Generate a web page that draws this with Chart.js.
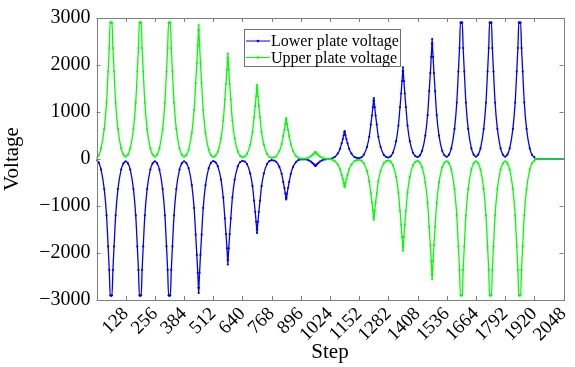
<!DOCTYPE html>
<html>
<head>
<meta charset="utf-8">
<script src="https://cdn.jsdelivr.net/npm/chart.js@4"></script>
<style>
  body{ margin:0; background:#fff; }
  canvas{ display:block; }
</style>
</head>
<body>
<canvas id="voltChart" width="575" height="367"></canvas>
<script>
// step positions of the samples (dense around every peak)
const steps = [
  0,
  10,20,34,44,51,56,60,63,64,65,68,72,77,84,94,108,118,128,
  138,148,162,172,179,184,188,191,192,193,196,200,205,212,222,236,246,256,
  266,276,290,300,307,312,316,319,320,321,324,328,333,340,350,364,374,384,
  394,404,418,428,435,440,444,447,448,449,452,456,461,468,478,492,502,512,
  522,532,546,556,563,568,572,575,576,577,580,584,589,596,606,620,630,640,
  650,660,674,684,691,696,700,703,704,705,708,712,717,724,734,748,758,768,
  778,788,802,812,819,824,828,831,832,833,836,840,845,852,862,876,886,896,
  906,916,930,940,947,952,956,959,960,961,964,968,973,980,990,1004,1014,1024,
  1034,1044,1058,1068,1075,1080,1084,1087,1088,1089,1092,1096,1101,1108,1118,1132,1142,1152,
  1162,1172,1186,1196,1203,1208,1212,1215,1216,1217,1220,1224,1229,1236,1246,1260,1270,1280,
  1290,1300,1314,1324,1331,1336,1340,1343,1344,1345,1348,1352,1357,1364,1374,1388,1398,1408,
  1418,1428,1442,1452,1459,1464,1468,1471,1472,1473,1476,1480,1485,1492,1502,1516,1526,1536,
  1546,1556,1570,1580,1587,1592,1596,1599,1600,1601,1604,1608,1613,1620,1630,1644,1654,1664,
  1674,1684,1698,1708,1715,1720,1724,1727,1728,1729,1732,1736,1741,1748,1758,1772,1782,1792,
  1802,1812,1826,1836,1843,1848,1852,1855,1856,1857,1860,1864,1869,1876,1886,1900,1910,1920,
  1924,2048
];

const upperVoltage = [
  27,
  77,225,640,1200,1860,2360,2900,2900,2900,2900,2900,2360,1860,1200,640,225,94,50,
  94,225,640,1200,1860,2360,2900,2900,2900,2900,2900,2360,1860,1200,640,225,94,50,
  94,225,640,1200,1860,2360,2900,2900,2900,2900,2900,2360,1860,1200,640,225,94,50,
  86,195,556,1040,1610,2040,2420,2740,2850,2740,2420,2040,1610,1040,556,195,82,45,
  72,153,437,818,1265,1600,1900,2150,2240,2150,1900,1600,1265,818,437,153,67,38,
  55,107,306,573,887,1123,1335,1507,1570,1507,1335,1123,887,573,306,107,46,25,
  34,59,170,318,492,622,740,835,870,835,740,622,492,318,170,59,22,10,
  10,10,29,55,85,107,128,144,150,144,128,107,85,55,29,10,0,-4,
  -13,-41,-117,-219,-339,-429,-510,-576,-600,-576,-510,-429,-339,-219,-117,-41,-24,-18,
  -36,-88,-252,-471,-729,-922,-1097,-1238,-1290,-1238,-1097,-922,-729,-471,-252,-88,-46,-32,
  -57,-133,-380,-712,-1102,-1394,-1658,-1872,-1950,-1872,-1658,-1394,-1102,-712,-380,-133,-65,-42,
  -76,-176,-499,-934,-1446,-1830,-2176,-2458,-2560,-2458,-2176,-1830,-1446,-934,-499,-176,-80,-48,
  -92,-225,-640,-1200,-1860,-2360,-2900,-2900,-2900,-2900,-2900,-2360,-1860,-1200,-640,-225,-94,-50,
  -94,-225,-640,-1200,-1860,-2360,-2900,-2900,-2900,-2900,-2900,-2360,-1860,-1200,-640,-225,-94,-50,
  -94,-225,-640,-1200,-1860,-2360,-2900,-2900,-2900,-2900,-2900,-2360,-1860,-1200,-640,-225,-86,-40,
  0,0
];

const lowerVoltage = [
  -27,
  -77,-225,-640,-1200,-1860,-2360,-2900,-2900,-2910,-2900,-2900,-2360,-1860,-1200,-640,-225,-94,-50,
  -94,-225,-640,-1200,-1860,-2360,-2900,-2900,-2910,-2900,-2900,-2360,-1860,-1200,-640,-225,-94,-50,
  -94,-225,-640,-1200,-1860,-2360,-2900,-2900,-2910,-2900,-2900,-2360,-1860,-1200,-640,-225,-94,-50,
  -86,-195,-556,-1040,-1610,-2040,-2420,-2740,-2850,-2740,-2420,-2040,-1610,-1040,-556,-195,-82,-45,
  -72,-153,-437,-818,-1265,-1600,-1900,-2150,-2245,-2150,-1900,-1600,-1265,-818,-437,-153,-67,-38,
  -55,-107,-306,-573,-887,-1123,-1335,-1507,-1572,-1507,-1335,-1123,-887,-573,-306,-107,-46,-25,
  -34,-58,-168,-315,-488,-617,-735,-828,-860,-828,-735,-617,-488,-315,-168,-58,-22,-10,
  -10,-10,-28,-54,-84,-106,-126,-142,-148,-142,-126,-106,-84,-54,-28,-10,0,4,
  13,40,115,216,334,423,503,568,592,568,503,423,334,216,115,40,24,18,
  36,88,253,473,732,926,1102,1244,1296,1244,1102,926,732,473,253,88,46,32,
  57,133,380,712,1102,1394,1658,1872,1951,1872,1658,1394,1102,712,380,133,65,42,
  76,175,497,932,1443,1826,2172,2454,2551,2454,2172,1826,1443,932,497,175,80,48,
  92,225,640,1200,1860,2360,2900,2900,2900,2900,2900,2360,1860,1200,640,225,94,50,
  94,225,640,1200,1860,2360,2900,2900,2900,2900,2900,2360,1860,1200,640,225,94,50,
  94,225,640,1200,1860,2360,2900,2900,2900,2900,2900,2360,1860,1200,640,225,86,40,
  0,0
];

const xTicks = [128,256,384,512,640,768,896,1024,1152,1280,1408,1536,1664,1792,1920,2048];
const xTickLabels = ['128','256','384','512','640','768','896','1024','1152','1282','1408','1536','1664','1792','1920','2048'];
const yTicks = [-3000,-2000,-1000,0,1000,2000,3000];
const yTickLabels = ['\u22123000','\u22122000','\u22121000','0','1000','2000','3000'];

const serif = '"Liberation Serif", "Times New Roman", serif';
const frameColor = '#7f7f7f';

// frame + inward ticks on all four sides
const framePlugin = {
  id: 'frame',
  afterDatasetsDraw(chart){
    const {ctx, chartArea:a, scales} = chart;
    ctx.save();
    ctx.strokeStyle = frameColor;
    ctx.lineWidth = 1;
    ctx.beginPath();
    xTicks.forEach(v => {
      const x = Math.round(scales.x.getPixelForValue(v)) + 0.5;
      ctx.moveTo(x, a.bottom); ctx.lineTo(x, a.bottom - 4);
      ctx.moveTo(x, a.top); ctx.lineTo(x, a.top + 4);
    });
    yTicks.forEach(v => {
      const y = Math.round(scales.y.getPixelForValue(v)) + 0.5;
      ctx.moveTo(a.left, y); ctx.lineTo(a.left + 4, y);
      ctx.moveTo(a.right, y); ctx.lineTo(a.right - 4, y);
    });
    ctx.stroke();
    ctx.strokeRect(Math.round(a.left) + 0.5, Math.round(a.top) + 0.5,
                   Math.round(a.right - a.left), Math.round(a.bottom - a.top));
    ctx.restore();
  }
};

// legend box inside the plot
const legendPlugin = {
  id: 'boxLegend',
  afterDraw(chart){
    const ctx = chart.ctx;
    const items = [
      {text:'Lower plate voltage', color:'rgb(0,0,255)'},
      {text:'Upper plate voltage', color:'rgb(0,255,0)'}
    ];
    ctx.save();
    ctx.fillStyle = '#fff';
    ctx.fillRect(244.5, 29.5, 156, 37);
    ctx.strokeStyle = '#6f6f6f';
    ctx.lineWidth = 1;
    ctx.strokeRect(244.5, 29.5, 156, 37);
    ctx.font = '16px ' + serif;
    ctx.textBaseline = 'middle';
    items.forEach((it, i) => {
      const y = 41 + i * 16.5;
      ctx.strokeStyle = it.color;
      ctx.beginPath();
      ctx.moveTo(246, y); ctx.lineTo(270, y);
      ctx.stroke();
      ctx.fillStyle = it.color;
      ctx.beginPath();
      ctx.arc(258, y, 1.3, 0, Math.PI * 2);
      ctx.fill();
      ctx.fillStyle = '#000';
      ctx.fillText(it.text, 271, y + 1);
    });
    ctx.restore();
  }
};

const ctx = document.getElementById('voltChart').getContext('2d');

new Chart(ctx, {
  type: 'line',
  data: {
    datasets: [
      {
        label: 'Lower plate voltage',
        data: steps.map((s, i) => ({x: s, y: lowerVoltage[i]})),
        borderColor: 'rgb(0,0,255)',
        backgroundColor: 'rgb(0,0,255)',
        borderWidth: 1.3,
        pointRadius: 1.1,
        pointBorderWidth: 0,
        cubicInterpolationMode: 'monotone',
        order: 1
      },
      {
        label: 'Upper plate voltage',
        data: steps.map((s, i) => ({x: s, y: upperVoltage[i]})),
        borderColor: 'rgb(0,255,0)',
        backgroundColor: 'rgb(0,255,0)',
        borderWidth: 1.3,
        pointRadius: 1.1,
        pointBorderWidth: 0,
        cubicInterpolationMode: 'monotone',
        order: 0
      }
    ]
  },
  options: {
    responsive: false,
    animation: false,
    layout: { padding: { top: 16, right: 11.5, left: 0, bottom: 0 } },
    plugins: { legend: { display: false }, tooltip: { enabled: false } },
    scales: {
      x: {
        type: 'linear',
        min: 0, max: 2048,
        grid: { display: false, drawTicks: false },
        border: { display: false },
        afterBuildTicks: (scale) => { scale.ticks = xTicks.map(v => ({value: v})); },
        afterFit: (scale) => { scale.height = 67; scale.paddingRight = 0; scale.paddingLeft = 0; },
        ticks: {
          autoSkip: false,
          maxRotation: 45, minRotation: 45,
          padding: 3,
          color: '#000',
          font: { family: serif, size: 19 },
          callback: (v, i) => xTickLabels[i]
        },
        title: {
          display: true, text: 'Step', color: '#000',
          font: { family: serif, size: 21 },
          padding: { top: 0, bottom: 2 }
        }
      },
      y: {
        min: -3000, max: 3000,
        grid: { display: false, drawTicks: false },
        border: { display: false },
        afterBuildTicks: (scale) => { scale.ticks = yTicks.map(v => ({value: v})); },
        afterFit: (scale) => { scale.width = 96.5; },
        ticks: {
          padding: 6,
          color: '#000',
          font: { family: serif, size: 20 },
          callback: (v, i) => yTickLabels[i]
        },
        title: {
          display: true, text: 'Voltage', color: '#000',
          font: { family: serif, size: 21 },
          padding: { top: 0, bottom: 0 }
        }
      }
    }
  },
  plugins: [framePlugin, legendPlugin]
});
</script>
</body>
</html>
